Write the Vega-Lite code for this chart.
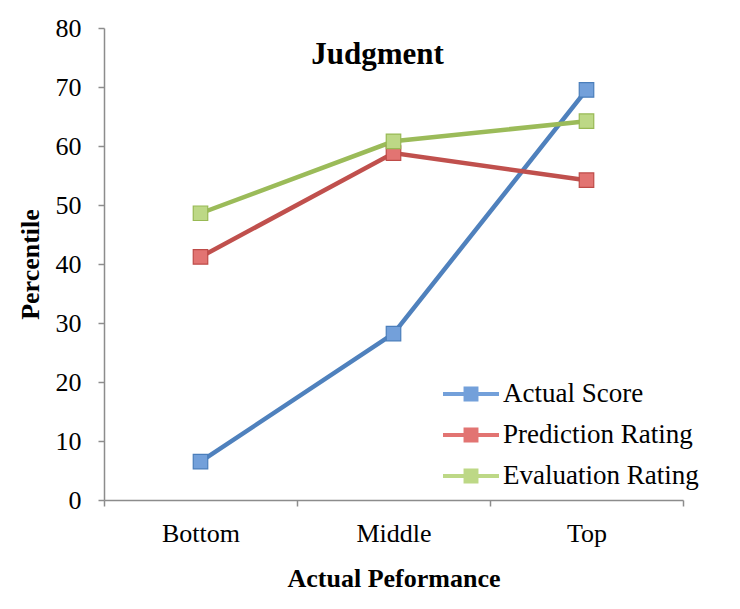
{
  "$schema": "https://vega.github.io/schema/vega-lite/v6.json",
  "width": 579,
  "height": 472,
  "autosize": {"type": "none"},
  "padding": {"left": 104, "top": 28, "right": 57, "bottom": 109},
  "background": "white",
  "config": {"view": {"stroke": null}, "font": "Liberation Serif"},
  "title": {
    "text": "Judgment",
    "font": "Liberation Serif",
    "fontSize": 31,
    "fontWeight": "bold",
    "color": "black",
    "anchor": "middle",
    "frame": "group",
    "dx": -16,
    "offset": -80,
    "baseline": "alphabetic"
  },
  "data": {
    "values": [
      {"perf": "Bottom", "series": "Actual Score", "value": 6.5},
      {"perf": "Middle", "series": "Actual Score", "value": 28.2},
      {"perf": "Top", "series": "Actual Score", "value": 69.5},
      {"perf": "Bottom", "series": "Prediction Rating", "value": 41.2},
      {"perf": "Middle", "series": "Prediction Rating", "value": 58.8},
      {"perf": "Top", "series": "Prediction Rating", "value": 54.2},
      {"perf": "Bottom", "series": "Evaluation Rating", "value": 48.6},
      {"perf": "Middle", "series": "Evaluation Rating", "value": 60.8},
      {"perf": "Top", "series": "Evaluation Rating", "value": 64.2}
    ]
  },
  "encoding": {
    "x": {
      "field": "perf",
      "type": "nominal",
      "sort": ["Bottom", "Middle", "Top"],
      "scale": {"type": "band", "paddingInner": 0, "paddingOuter": 0},
      "axis": {
        "title": "Actual Peformance",
        "titleFont": "Liberation Serif",
        "titleFontSize": 26,
        "titleFontWeight": "bold",
        "titleColor": "black",
        "titlePadding": 19,
        "labelFont": "Liberation Serif",
        "labelFontSize": 26,
        "labelColor": "black",
        "labelAngle": 0,
        "labelPadding": 14,
        "tickBand": "extent",
        "tickSize": 6,
        "tickColor": "#8c8c8c",
        "domainColor": "#8c8c8c",
        "domainWidth": 1.5,
        "tickWidth": 1.5,
        "grid": false
      }
    },
    "y": {
      "field": "value",
      "type": "quantitative",
      "scale": {"domain": [0, 80], "nice": false},
      "axis": {
        "title": "Percentile",
        "values": [0, 10, 20, 30, 40, 50, 60, 70, 80],
        "titleFont": "Liberation Serif",
        "titleFontSize": 26,
        "titleFontWeight": "bold",
        "titleColor": "black",
        "titlePadding": 12,
        "labelFont": "Liberation Serif",
        "labelFontSize": 26,
        "labelColor": "black",
        "labelPadding": 17,
        "tickSize": 6,
        "tickColor": "#8c8c8c",
        "domainColor": "#8c8c8c",
        "domainWidth": 1.5,
        "tickWidth": 1.5,
        "grid": false
      }
    }
  },
  "layer": [
    {
      "mark": {"type": "line", "strokeWidth": 4.5},
      "encoding": {
        "color": {
          "field": "series",
          "type": "nominal",
          "sort": ["Actual Score", "Prediction Rating", "Evaluation Rating"],
          "scale": {
            "domain": ["Actual Score", "Prediction Rating", "Evaluation Rating"],
            "range": ["#4F81BD", "#C0504D", "#9BBB59"]
          },
          "legend": {
            "title": null,
            "orient": "none",
            "legendX": 348,
            "legendY": 347,
            "symbolType": "M-1.5,-0.107H1.5V0.107H-1.5Z M-0.4,-0.4H0.4V0.4H-0.4Z",
            "symbolSize": 1394,
            "symbolStrokeWidth": 0,
            "labelFont": "Liberation Serif",
            "labelFontSize": 27,
            "labelColor": "black",
            "labelOffset": 13,
            "rowPadding": 9,
            "labelLimit": 400
          }
        }
      }
    },
    {
      "mark": {"type": "point", "shape": "square", "size": 210, "filled": true, "opacity": 1, "strokeWidth": 1.2},
      "encoding": {
        "fill": {
          "field": "series",
          "type": "nominal",
          "scale": {
            "domain": ["Actual Score", "Prediction Rating", "Evaluation Rating"],
            "range": ["#73A0DA", "#E27472", "#BDD886"]
          },
          "legend": null
        },
        "stroke": {
          "field": "series",
          "type": "nominal",
          "scale": {
            "domain": ["Actual Score", "Prediction Rating", "Evaluation Rating"],
            "range": ["#4A7EBB", "#BE4B48", "#98B954"]
          },
          "legend": null
        }
      }
    }
  ]
}
